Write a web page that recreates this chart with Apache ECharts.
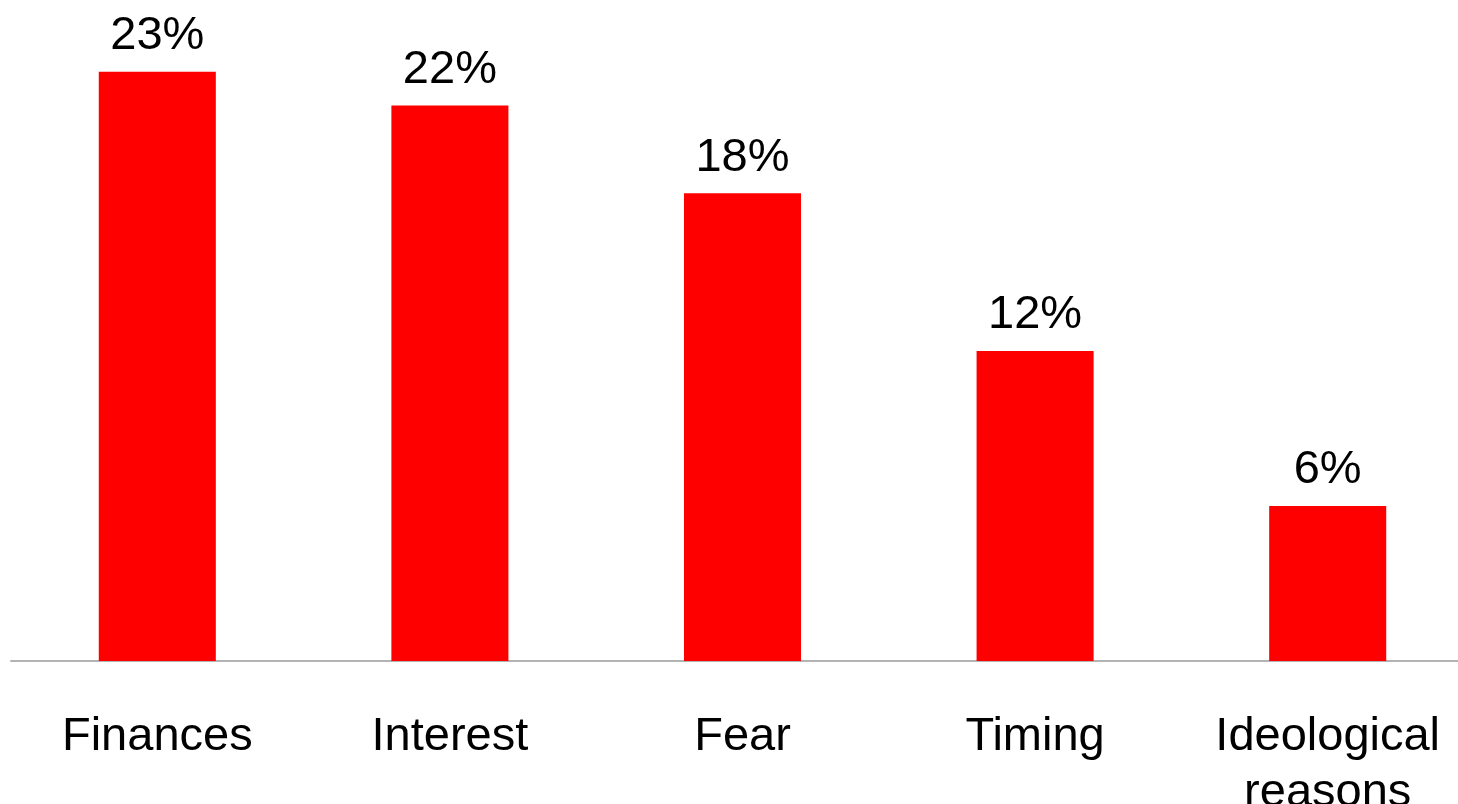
<!DOCTYPE html>
<html>
<head>
<meta charset="utf-8">
<script src="https://cdn.jsdelivr.net/npm/echarts@6/dist/echarts.min.js"></script>
<style>
html,body{margin:0;padding:0;background:#fff;overflow:hidden;}
#chart{width:1458px;height:804px;}
</style>
</head>
<body>
<div id="chart"></div>
<script>
var categories = ['Finances', 'Interest', 'Fear', 'Timing', 'Ideological\nreasons'];
var values = [22.8, 21.5, 18.1, 12.0, 6.0];

var chart = echarts.init(document.getElementById('chart'), null, {renderer: 'canvas'});
chart.setOption({
  animation: false,
  backgroundColor: '#ffffff',
  grid: {left: 11, top: 15, width: 1463, height: 646, containLabel: false, outerBoundsMode: 'none'},
  xAxis: {
    type: 'category',
    data: categories,
    axisLine: {show: true, lineStyle: {color: '#b3b3b3', width: 2}},
    axisTick: {show: false},
    axisLabel: {
      color: '#000', fontFamily: 'Liberation Sans, Arial, sans-serif', fontSize: 47,
      lineHeight: 56, margin: 48, interval: 0, hideOverlap: false
    }
  },
  yAxis: {
    type: 'value', min: 0, max: 25,
    show: false,
    splitLine: {show: false}
  },
  series: [{
    type: 'bar',
    data: values,
    barWidth: '40%',
    itemStyle: {color: '#ff0000'},
    label: {
      show: true, position: 'top', distance: 12,
      color: '#000', fontFamily: 'Liberation Sans, Arial, sans-serif', fontSize: 47,
      formatter: function (p) { return Math.round(p.value) + '%'; }
    }
  }]
});
</script>
</body>
</html>
